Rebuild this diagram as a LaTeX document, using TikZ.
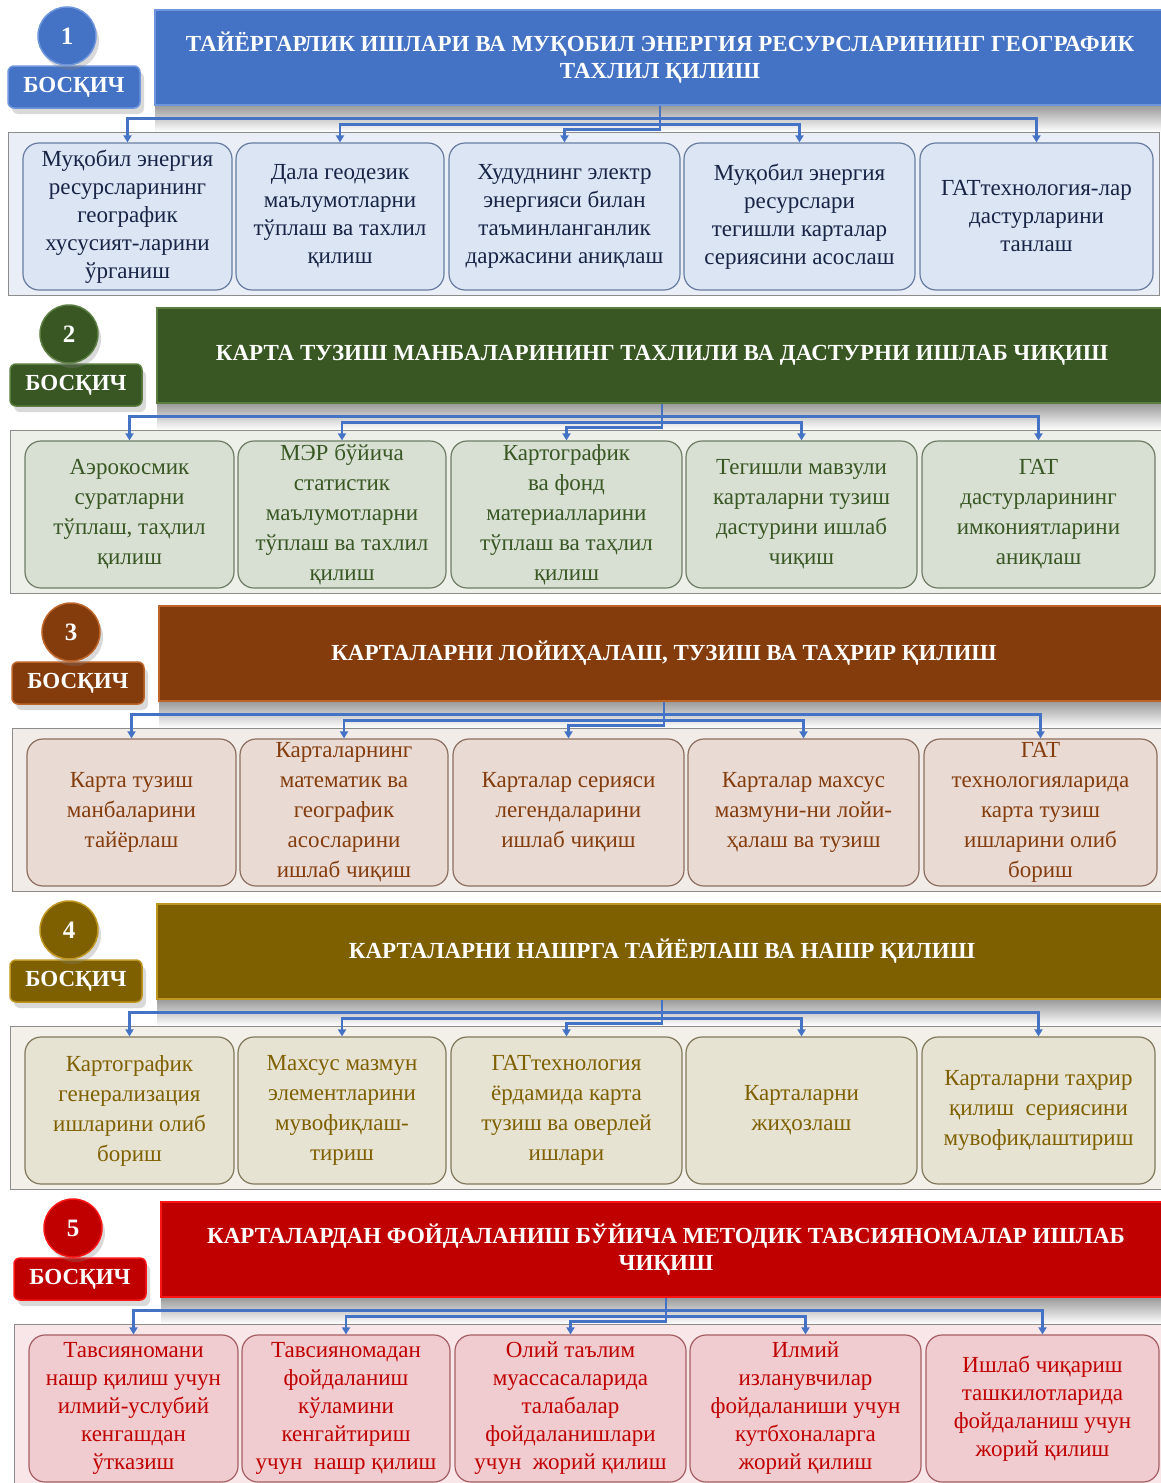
\documentclass[tikz,border=0pt]{standalone}
\usepackage{fontspec}
\setmainfont{Liberation Serif}
\usetikzlibrary{arrows.meta}
\usetikzlibrary{shadows}
% stage colours
\definecolor{bluemain}{RGB}{68,114,196}
\definecolor{bluerim}{RGB}{110,150,220}
\definecolor{bluebox}{RGB}{219,229,244}
\definecolor{blueline}{RGB}{105,125,160}
\definecolor{blueink}{RGB}{24,36,70}
\definecolor{bluepanel}{RGB}{233,238,247}
\definecolor{greenmain}{RGB}{56,87,35}
\definecolor{greenrim}{RGB}{90,125,65}
\definecolor{greenbox}{RGB}{216,224,211}
\definecolor{greenline}{RGB}{110,125,100}
\definecolor{greenink}{RGB}{56,87,35}
\definecolor{greenpanel}{RGB}{236,240,233}
\definecolor{brownmain}{RGB}{132,60,12}
\definecolor{brownrim}{RGB}{190,100,40}
\definecolor{brownbox}{RGB}{233,219,212}
\definecolor{brownline}{RGB}{140,110,95}
\definecolor{brownink}{RGB}{132,60,12}
\definecolor{brownpanel}{RGB}{242,236,232}
\definecolor{olivemain}{RGB}{127,96,0}
\definecolor{oliverim}{RGB}{190,150,30}
\definecolor{olivebox}{RGB}{231,227,211}
\definecolor{oliveline}{RGB}{130,120,90}
\definecolor{oliveink}{RGB}{127,96,0}
\definecolor{olivepanel}{RGB}{242,240,233}
\definecolor{redmain}{RGB}{192,0,0}
\definecolor{redrim}{RGB}{250,20,20}
\definecolor{redbox}{RGB}{240,204,208}
\definecolor{redline}{RGB}{165,95,100}
\definecolor{redink}{RGB}{192,0,0}
\definecolor{redpanel}{RGB}{249,230,232}
\definecolor{linkblue}{RGB}{68,114,196}

\begin{document}
\begin{tikzpicture}[x=1pt,y=-1pt,
  stage ball/.style={circle,fill=#1main,draw=#1rim,line width=1.5pt,
    minimum size=58pt,inner sep=0pt,text=white,
    font=\bfseries\fontsize{25}{27}\selectfont,
    drop shadow={opacity=0.3,shadow xshift=3pt,shadow yshift=-5pt}},
  stage badge/.style={rounded corners=6pt,fill=#1main,draw=#1rim,line width=1.5pt,
    minimum width=132pt,minimum height=42pt,inner sep=0pt,text=white,
    font=\bfseries\fontsize{23}{25}\selectfont,
    drop shadow={opacity=0.3,shadow xshift=4pt,shadow yshift=-6pt}},
  stage banner/.style={fill=#1main,draw=#1rim,line width=2.5pt,
    minimum width=1010pt,minimum height=95pt,inner sep=0pt,align=center,
    text=white,font=\bfseries\fontsize{23}{27}\selectfont},
  stage panel/.style={fill=#1panel,draw=black!45,line width=1pt},
  task box/.style={rounded corners=16pt,fill=#1box,draw=#1line,line width=1.2pt,
    minimum height=147pt,inner sep=2pt,align=center,text=#1ink,
    font=\fontsize{23}{28}\selectfont},
  wide lines/.style={font=\fontsize{23}{30}\selectfont},
  link/.style={draw=linkblue,line width=2.6pt,-{Triangle[length=7pt,width=8pt]}}]
\useasboundingbox (0,0) rectangle (1161,1483);

% common parts of every stage
\foreach \s/\col/\dx/\dy in {1/blue/0/0,2/green/2/298,3/brown/4/596,4/olive/2/894,5/red/6/1192}
{
  \begin{scope}[shift={(\dx,\dy)}]
    \shade[top color=black!40,bottom color=white] (155,105) rectangle (1161,132);
    \draw[stage panel=\col] (8,132) rectangle (1159,295);
    \node[stage badge=\col] (s\s-badge) at (74,87) {БОСҚИЧ};
    \node[stage ball=\col] (s\s-ball) at (67,36) {\s};
  \end{scope}
}

% stage 1
\begin{scope}
  \node[stage banner=blue] (s1-head) at (660,57.5)
    {ТАЙЁРГАРЛИК ИШЛАРИ ВА МУҚОБИЛ ЭНЕРГИЯ РЕСУРСЛАРИНИНГ ГЕОГРАФИК\\ТАХЛИЛ ҚИЛИШ};
  \foreach \i/\x/\w/\txt in {
      1/127.5/209/{Муқобил энергия\\ресурсларининг\\географик\\хусусият-ларини\\ўрганиш},
      2/340/208/{Дала геодезик\\маълумотларни\\тўплаш ва тахлил\\қилиш},
      3/564.5/231/{Худуднинг электр\\энергияси билан\\таъминланганлик\\даржасини аниқлаш},
      4/799.5/231/{Муқобил энергия\\ресурслари\\тегишли карталар\\сериясини асослаш},
      5/1036.5/233/{ГАТтехнология-лар\\дастурларини\\танлаш}}
    \node[task box=blue,minimum width=\w pt] (s1-b\i) at (\x,216.5) {\txt};
\end{scope}

% stage 2
\begin{scope}[shift={(2,298)}]
  \node[stage banner=green] (s2-head) at (660,57.5)
    {КАРТА ТУЗИШ МАНБАЛАРИНИНГ ТАХЛИЛИ ВА ДАСТУРНИ ИШЛАБ ЧИҚИШ};
  \foreach \i/\x/\w/\txt in {
      1/127.5/209/{Аэрокосмик\\суратларни\\тўплаш, таҳлил\\қилиш},
      2/340/208/{МЭР бўйича\\статистик\\маълумотларни\\тўплаш ва тахлил\\қилиш},
      3/564.5/231/{Картографик\\ва фонд\\материалларини\\тўплаш ва таҳлил\\қилиш},
      4/799.5/231/{Тегишли мавзули\\карталарни тузиш\\дастурини ишлаб\\чиқиш},
      5/1036.5/233/{ГАТ\\дастурларининг\\имкониятларини\\аниқлаш}}
    \node[task box=green,wide lines,minimum width=\w pt] (s2-b\i) at (\x,216.5) {\txt};
\end{scope}

% stage 3
\begin{scope}[shift={(4,596)}]
  \node[stage banner=brown] (s3-head) at (660,57.5)
    {КАРТАЛАРНИ ЛОЙИҲАЛАШ, ТУЗИШ ВА ТАҲРИР ҚИЛИШ};
  \foreach \i/\x/\w/\txt in {
      1/127.5/209/{Карта тузиш\\манбаларини\\тайёрлаш},
      2/340/208/{Карталарнинг\\математик ва\\географик\\асосларини\\ишлаб чиқиш},
      3/564.5/231/{Карталар серияси\\легендаларини\\ишлаб чиқиш},
      4/799.5/231/{Карталар махсус\\мазмуни-ни лойи-\\ҳалаш ва тузиш},
      5/1036.5/233/{ГАТ\\технологияларида\\карта тузиш\\ишларини олиб\\бориш}}
    \node[task box=brown,wide lines,minimum width=\w pt] (s3-b\i) at (\x,216.5) {\txt};
\end{scope}

% stage 4
\begin{scope}[shift={(2,894)}]
  \node[stage banner=olive] (s4-head) at (660,57.5)
    {КАРТАЛАРНИ НАШРГА ТАЙЁРЛАШ ВА НАШР ҚИЛИШ};
  \foreach \i/\x/\w/\txt in {
      1/127.5/209/{Картографик\\генерализация\\ишларини олиб\\бориш},
      2/340/208/{Махсус мазмун\\элементларини\\мувофиқлаш-\\тириш},
      3/564.5/231/{ГАТтехнология\\ёрдамида карта\\тузиш ва оверлей\\ишлари},
      4/799.5/231/{Карталарни\\жиҳозлаш},
      5/1036.5/233/{Карталарни таҳрир\\қилиш~ сериясини\\мувофиқлаштириш}}
    \node[task box=olive,wide lines,minimum width=\w pt] (s4-b\i) at (\x,216.5) {\txt};
\end{scope}

% stage 5
\begin{scope}[shift={(6,1192)}]
  \node[stage banner=red] (s5-head) at (660,57.5)
    {КАРТАЛАРДАН ФОЙДАЛАНИШ БЎЙИЧА МЕТОДИК ТАВСИЯНОМАЛАР ИШЛАБ\\ЧИҚИШ};
  \foreach \i/\x/\w/\txt in {
      1/127.5/209/{Тавсияномани\\нашр қилиш учун\\илмий-услубий\\кенгашдан\\ўтказиш},
      2/340/208/{Тавсияномадан\\фойдаланиш\\кўламини\\кенгайтириш\\учун~ нашр қилиш},
      3/564.5/231/{Олий таълим\\муассасаларида\\талабалар\\фойдаланишлари\\учун~ жорий қилиш},
      4/799.5/231/{Илмий\\изланувчилар\\фойдаланиши учун\\кутбхоналарга\\жорий қилиш},
      5/1036.5/233/{Ишлаб чиқариш\\ташкилотларида\\фойдаланиш учун\\жорий қилиш}}
    \node[task box=red,minimum width=\w pt] (s5-b\i) at (\x,216.5) {\txt};
\end{scope}

% connectors from each banner to its tasks
\foreach \s in {1,...,5}
  \foreach \i/\lv in {1/12,2/18,3/23,4/18,5/12}
    \draw[link] (s\s-head.south) -- ++(0,\lv) -| (s\s-b\i.north);
\end{tikzpicture}
\end{document}
